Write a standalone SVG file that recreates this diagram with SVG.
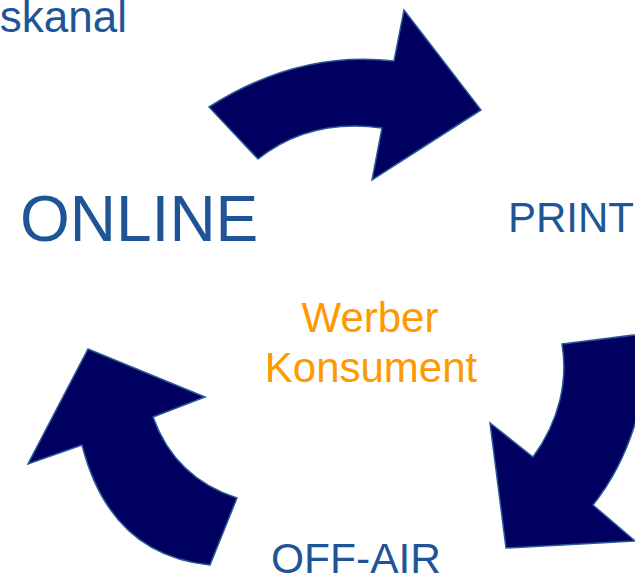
<svg xmlns="http://www.w3.org/2000/svg" width="635" height="575" viewBox="0 0 635 575">
  <style>
    .arrow { fill: #000060; stroke: #2A5A96; stroke-width: 1.5; stroke-linejoin: miter; }
    .lbl { font-family: "Liberation Sans", Arial, sans-serif; fill: #1F5597; }
    .core { font-family: "Liberation Sans", Arial, sans-serif; fill: #FF9900; text-anchor: middle; }
  </style>
  <rect width="635" height="575" fill="#FFFFFF"/>

  <g id="connectors">
    <!-- ONLINE to PRINT -->
    <path class="arrow" d="M209,107 Q298,50 394,61 L404,10 L481,110 L372,180 L382,128 Q310,118 258,159 Z"/>
    <!-- PRINT to OFF-AIR -->
    <path class="arrow" d="M562,344 L650,333 Q645,440 593,505 L635,541 L506,548 L490,423 L533,457 C560,420 568,380 562,344 Z"/>
    <!-- OFF-AIR to ONLINE -->
    <path class="arrow" d="M237,498 L210,565 Q110,555 82,445 L28,464 L88,349 L205,397 L153,417 Q175,478 237,498 Z"/>
  </g>

  <g id="title">
    <text class="lbl" x="127" y="32" font-size="44" text-anchor="end">skanal</text>
  </g>
  <g id="online">
    <text class="lbl" x="20" y="241" font-size="64">ONLINE</text>
  </g>
  <g id="print">
    <text class="lbl" x="508" y="232" font-size="42">PRINT</text>
  </g>
  <g id="offair">
    <text class="lbl" x="271" y="573" font-size="42.5">OFF-AIR</text>
  </g>
  <g id="center">
    <text class="core" x="370" y="332" font-size="42">Werber</text>
    <text class="core" x="371" y="382" font-size="42">Konsument</text>
  </g>
</svg>
